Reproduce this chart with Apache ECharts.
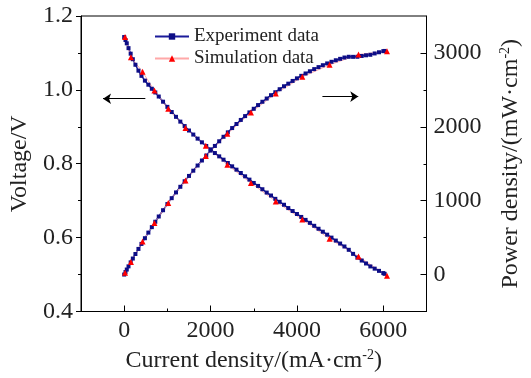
<!DOCTYPE html>
<html>
<head>
<meta charset="utf-8">
<script src="https://cdn.jsdelivr.net/npm/echarts@6/dist/echarts.min.js"></script>
<style>
html, body { margin: 0; padding: 0; background: #fff; }
#main { width: 531px; height: 378px; }
</style>
</head>
<body>
<div id="main"></div>
<script>
// experiment data (current density mA/cm2, voltage V, power mW/cm2)
var expCurrent = [0, 30, 60, 100, 150, 200, 260, 330, 400, 480, 560, 640, 720, 800, 900, 1000,
	1100, 1200, 1300, 1400, 1500, 1600, 1700, 1800, 1900, 2000, 2100, 2200, 2300, 2400, 2500,
	2600, 2700, 2800, 2900, 3000, 3100, 3200, 3300, 3400, 3500, 3600, 3700, 3800, 3900, 4000,
	4100, 4200, 4300, 4400, 4500, 4600, 4700, 4800, 4900, 5000, 5100, 5200, 5300, 5400, 5500,
	5600, 5700, 5800, 5900, 6000, 6030]
var expVoltage = [1.143, 1.135, 1.126, 1.113, 1.098, 1.083, 1.068, 1.052, 1.038, 1.025, 1.014, 1.003, 0.993, 0.982, 0.968, 0.954,
	0.940, 0.927, 0.914, 0.902, 0.890, 0.879, 0.868, 0.858, 0.848, 0.839, 0.829, 0.820, 0.811, 0.802, 0.793,
	0.784, 0.775, 0.766, 0.757, 0.748, 0.740, 0.731, 0.722, 0.714, 0.705, 0.697, 0.689, 0.680, 0.672, 0.664,
	0.656, 0.648, 0.640, 0.632, 0.624, 0.616, 0.608, 0.600, 0.592, 0.584, 0.576, 0.567, 0.556, 0.546, 0.538,
	0.530, 0.522, 0.516, 0.510, 0.504, 0.502]
var expPower = [0, 34, 68, 111, 165, 217, 278, 347, 415, 492, 568, 642, 715, 786, 871, 954,
	1034, 1112, 1188, 1263, 1335, 1406, 1476, 1544, 1611, 1678, 1741, 1804, 1865, 1925, 1983,
	2038, 2093, 2145, 2195, 2244, 2294, 2339, 2383, 2428, 2468, 2509, 2549, 2584, 2621, 2656,
	2690, 2722, 2752, 2781, 2808, 2834, 2858, 2880, 2901, 2920, 2938, 2948, 2947, 2948, 2959,
	2968, 2975, 2993, 3009, 3024, 3027]

// simulation data
var simCurrent = [20, 157, 425, 700, 1020, 1420, 1890, 2390, 2935, 3510, 4125, 4755, 5425, 6085]
var simVoltage = [1.143, 1.088, 1.049, 0.998, 0.949, 0.897, 0.849, 0.797, 0.748, 0.698, 0.649, 0.597, 0.549, 0.497]
var simPower = [23, 171, 446, 699, 968, 1274, 1605, 1905, 2195, 2450, 2677, 2839, 2978, 3024]

// ticks
var xMajor = [0, 2000, 4000, 6000]
var xMinor = [1000, 3000, 5000]
var powerMajor = [0, 1000, 2000, 3000]
var powerMinor = [500, 1500, 2500]

var serif = 'Liberation Serif'
var ink = '#222'
var plain = function(v) { return String(v) } // no thousands separator

function zip(a, b) {
	var out = []
	for (var i = 0; i < a.length; i++) out.push([a[i], b[i]])
	return out
}

var myChart = echarts.init(document.getElementById('main'))
var option = {
	animation: false,
	backgroundColor: '#fff',
	grid: { left: 81, right: 93, top: 16, bottom: 65, show: true, borderColor: '#000', borderWidth: 1 },
	legend: {
		data: ['Experiment data', 'Simulation data'],
		orient: 'vertical',
		left: 149, top: 22,
		itemWidth: 34, itemHeight: 8, itemGap: 3,
		textStyle: { fontFamily: serif, fontSize: 19, color: ink }
	},
	xAxis: [{
		type: 'value', min: -1000, max: 7000,
		name: '{a|Current density/(mA·cm}{s|-2}{a|)}',
		nameLocation: 'middle', nameGap: 37,
		nameTextStyle: {
			rich: {
				a: { fontFamily: serif, fontSize: 24, color: ink },
				s: { fontFamily: serif, fontSize: 14, color: ink, padding: [0, 0, 11, 0] }
			}
		},
		axisLine: { onZero: false, lineStyle: { color: '#000', width: 1 } },
		axisTick: { inside: true, length: 6, customValues: xMajor, lineStyle: { color: '#000' } },
		axisLabel: { customValues: xMajor, formatter: plain, fontFamily: serif, fontSize: 24, color: ink, margin: 7 },
		splitLine: { show: false }
	}, {
		// minor ticks only
		type: 'value', min: -1000, max: 7000, position: 'bottom',
		axisLine: { show: false, onZero: false },
		axisTick: { inside: true, length: 3, customValues: xMinor, lineStyle: { color: '#000' } },
		axisLabel: { show: false },
		splitLine: { show: false }
	}],
	yAxis: [{
		type: 'value', min: 0.4, max: 1.2, interval: 0.2, position: 'left',
		name: 'Voltage/V', nameLocation: 'middle', nameGap: 46, nameRotate: 90,
		nameTextStyle: { fontFamily: serif, fontSize: 24, color: ink },
		axisLine: { show: true, onZero: false, lineStyle: { color: '#000', width: 1 } },
		axisTick: { show: true, length: 5, lineStyle: { color: '#000' } },
		minorTick: { show: true, splitNumber: 2, length: 3, lineStyle: { color: '#000' } },
		axisLabel: { fontFamily: serif, fontSize: 24, color: ink, margin: 8, formatter: function(v) { return v.toFixed(1) } },
		splitLine: { show: false }
	}, {
		type: 'value', min: -500, max: 3500, position: 'right', alignTicks: false,
		name: '{a|Power density/(mW·cm}{s|-2}{a|)}',
		nameLocation: 'middle', nameGap: 72, nameRotate: 90,
		nameTextStyle: {
			rich: {
				a: { fontFamily: serif, fontSize: 24, color: ink },
				s: { fontFamily: serif, fontSize: 14, color: ink, padding: [0, 0, 11, 0] }
			}
		},
		axisLine: { show: true, onZero: false, lineStyle: { color: '#000', width: 1 } },
		axisTick: { show: true, inside: true, length: 6, customValues: powerMajor, lineStyle: { color: '#000' } },
		axisLabel: { customValues: powerMajor, formatter: plain, fontFamily: serif, fontSize: 24, color: ink, margin: 7 },
		splitLine: { show: false }
	}, {
		type: 'value', min: -500, max: 3500, position: 'right', alignTicks: false,
		axisLine: { show: false, onZero: false },
		axisTick: { show: true, inside: true, length: 3, customValues: powerMinor, lineStyle: { color: '#000' } },
		axisLabel: { show: false },
		splitLine: { show: false }
	}],
	series: [{
		name: 'Experiment data', type: 'line', yAxisIndex: 0,
		data: zip(expCurrent, expVoltage),
		symbol: 'rect', symbolSize: 4,
		itemStyle: { color: '#0d0d86' },
		lineStyle: { color: '#1b1b9a', width: 1.5 },
		markLine: { // arrow to voltage axis
			silent: true, symbol: ['none', 'arrow'], symbolSize: 8,
			label: { show: false },
			lineStyle: { color: '#000', width: 1, type: 'solid' },
			data: [[{ coord: [490, 0.976] }, { coord: [-490, 0.976] }]]
		}
	}, {
		name: 'Experiment data', type: 'line', yAxisIndex: 1,
		data: zip(expCurrent, expPower),
		symbol: 'rect', symbolSize: 4,
		itemStyle: { color: '#0d0d86' },
		lineStyle: { color: '#1b1b9a', width: 1.5 },
		markLine: { // arrow to power axis
			silent: true, symbol: ['none', 'arrow'], symbolSize: 8,
			label: { show: false },
			lineStyle: { color: '#000', width: 1, type: 'solid' },
			data: [[{ coord: [4590, 2409] }, { coord: [5420, 2409] }]]
		}
	}, {
		name: 'Simulation data', type: 'line', yAxisIndex: 0,
		data: zip(simCurrent, simVoltage),
		symbol: 'triangle', symbolSize: 6,
		itemStyle: { color: '#ff0000' },
		lineStyle: { color: '#ffa8a8', width: 1 },
		z: 3
	}, {
		name: 'Simulation data', type: 'line', yAxisIndex: 1,
		data: zip(simCurrent, simPower),
		symbol: 'triangle', symbolSize: 6,
		itemStyle: { color: '#ff0000' },
		lineStyle: { color: '#ffa8a8', width: 1 },
		z: 3
	}]
}
myChart.setOption(option)
</script>
</body>
</html>
